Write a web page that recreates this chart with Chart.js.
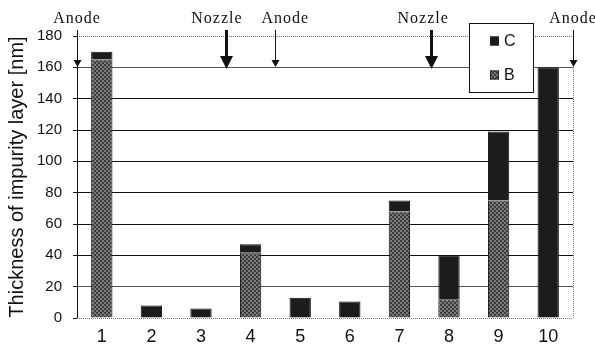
<!DOCTYPE html>
<html lang="en">
<head>
    <meta charset="UTF-8">
    <title>Thickness of impurity layer</title>
    <script src="https://cdn.jsdelivr.net/npm/chart.js"></script>
    <style>
        html, body { margin: 0; padding: 0; background: white; }
        #wrap { width: 595px; height: 345px; }
    </style>
</head>
<body>
    <div id="wrap"><canvas id="chart" width="595" height="345"></canvas></div>

    <script>
        // data
        const positions = ['1', '2', '3', '4', '5', '6', '7', '8', '9', '10'];
        const layerB = [165, 0, 0, 42, 0, 0, 68, 12, 75, 0];
        const layerC = [5, 8, 6, 5, 13, 10.5, 7, 28, 44, 160];
        const yTicks = [0, 20, 40, 60, 80, 100, 120, 140, 160, 180];

        // markers above the plot (x in category units)
        const markerNames = ['Anode', 'Nozzle', 'Anode', 'Nozzle', 'Anode'];
        const markerAt = [-0.5, 2.5, 3.5, 6.64, 9.5];
        const markerTextShift = [0, -0.18, 0.2, -0.16, 0];
        const markerHeavy = [false, true, false, true, false];

        // dithered grey fill used for layer B
        function makeDither() {
            let c = document.createElement('canvas');
            c.width = 4; c.height = 4;
            let g = c.getContext('2d');
            g.fillStyle = '#7a7a7a';
            g.fillRect(0, 0, 4, 4);
            g.fillStyle = '#3c3c3c';
            g.fillRect(0, 0, 2, 2);
            g.fillRect(2, 2, 2, 2);
            return g.createPattern(c, 'repeat');
        }
        const dither = makeDither();
        const darkFill = '#1c1c1c';

        const overlay = {
            id: 'overlay',
            beforeDatasetsDraw(chart) {
                const { ctx, chartArea: a } = chart;
                const y = chart.scales.y;
                ctx.save();
                ctx.strokeStyle = '#666';
                ctx.lineWidth = 1;
                ctx.setLineDash([1, 1]);
                let yt = Math.round(y.getPixelForValue(180)) + 0.5;
                ctx.beginPath();
                ctx.moveTo(a.left, yt);
                ctx.lineTo(a.right, yt);
                ctx.stroke();
                ctx.restore();
            },
            afterDatasetsDraw(chart) {
                const { ctx, chartArea: a } = chart;
                const x = chart.scales.x;
                ctx.save();
                ctx.strokeStyle = '#777';
                ctx.lineWidth = 1;
                ctx.setLineDash([1, 1]);
                // bottom axis
                let yb = Math.round(a.bottom) + 0.5;
                ctx.beginPath();
                ctx.moveTo(a.left, yb);
                ctx.lineTo(a.right, yb);
                ctx.stroke();
                // right anode line
                let xr = Math.round(x.getPixelForValue(markerAt[4])) + 0.5;
                ctx.beginPath();
                ctx.moveTo(xr, 67);
                ctx.lineTo(xr, a.bottom);
                ctx.stroke();
                ctx.restore();
            },
            afterDraw(chart) {
                const { ctx } = chart;
                const x = chart.scales.x;
                const tip = Math.round(chart.scales.y.getPixelForValue(160));
                ctx.save();

                // arrows and their labels
                markerNames.forEach((name, i) => {
                    let px = Math.round(x.getPixelForValue(markerAt[i])) + 0.5;
                    ctx.strokeStyle = '#111';
                    ctx.fillStyle = '#111';
                    ctx.setLineDash([]);
                    if (markerHeavy[i]) {
                        ctx.lineWidth = 3;
                        ctx.beginPath();
                        ctx.moveTo(px, 30);
                        ctx.lineTo(px, tip - 10);
                        ctx.stroke();
                        ctx.beginPath();
                        ctx.moveTo(px - 6.5, tip - 11);
                        ctx.lineTo(px + 6.5, tip - 11);
                        ctx.lineTo(px, tip + 2);
                        ctx.closePath();
                        ctx.fill();
                    } else {
                        ctx.lineWidth = 1;
                        ctx.beginPath();
                        ctx.moveTo(px, 30);
                        ctx.lineTo(px, tip - 6);
                        ctx.stroke();
                        ctx.beginPath();
                        ctx.moveTo(px - 4, tip - 7);
                        ctx.lineTo(px + 4, tip - 7);
                        ctx.lineTo(px, tip);
                        ctx.closePath();
                        ctx.fill();
                    }
                    ctx.font = '16px "Liberation Serif", "DejaVu Serif", serif';
                    ctx.letterSpacing = '1px';
                    ctx.textAlign = 'center';
                    ctx.textBaseline = 'middle';
                    ctx.fillStyle = '#111';
                    let tx = x.getPixelForValue(markerAt[i] + markerTextShift[i]);
                    ctx.fillText(name, tx, 19);
                });

                // legend box, C on top
                ctx.letterSpacing = '0px';
                ctx.setLineDash([]);
                ctx.fillStyle = '#fff';
                ctx.fillRect(469, 23, 64, 69);
                ctx.strokeStyle = '#111';
                ctx.lineWidth = 1;
                ctx.strokeRect(469.5, 23.5, 64, 69);
                const items = chart.data.datasets.slice().reverse();
                items.forEach((ds, k) => {
                    let cy = 41 + k * 34;
                    ctx.fillStyle = ds.backgroundColor;
                    ctx.fillRect(490, cy - 4.5, 9, 9);
                    ctx.strokeStyle = '#222';
                    ctx.strokeRect(490.5, cy - 4, 8, 8);
                    ctx.fillStyle = '#111';
                    ctx.font = '16px "Liberation Sans", Arial, sans-serif';
                    ctx.textAlign = 'left';
                    ctx.textBaseline = 'middle';
                    ctx.fillText(ds.label, 504, cy + 1);
                });
                ctx.restore();
            }
        };

        const ctx = document.getElementById('chart').getContext('2d');
        const chart = new Chart(ctx, {
            type: 'bar',
            data: {
                labels: positions,
                datasets: [
                    {
                        label: 'B',
                        data: layerB,
                        backgroundColor: dither,
                        borderColor: '#111',
                        borderWidth: 1,
                        borderSkipped: 'bottom',
                        categoryPercentage: 1,
                        barPercentage: 0.43
                    },
                    {
                        label: 'C',
                        data: layerC,
                        backgroundColor: darkFill,
                        borderColor: '#111',
                        borderWidth: 1,
                        borderSkipped: 'bottom',
                        categoryPercentage: 1,
                        barPercentage: 0.43
                    }
                ]
            },
            options: {
                responsive: false,
                animation: false,
                layout: { padding: { top: 36, right: 22, left: 0, bottom: 0 } },
                plugins: {
                    legend: { display: false },
                    tooltip: { enabled: false }
                },
                scales: {
                    x: {
                        stacked: true,
                        grid: { display: false, drawTicks: false },
                        border: { display: false },
                        ticks: {
                            color: '#111',
                            padding: 8,
                            font: { family: '"Liberation Sans", Arial, sans-serif', size: 18 }
                        },
                        afterFit: (s) => { s.height = 27; }
                    },
                    y: {
                        stacked: true,
                        min: 0,
                        max: 180,
                        afterBuildTicks: (s) => { s.ticks = yTicks.map(v => ({ value: v })); },
                        grid: {
                            color: (c) => {
                                let v = c.tick ? c.tick.value : null;
                                if (v === 0 || v === 180) return 'rgba(0,0,0,0)';
                                if (v === 20 || v === 160) return '#555';
                                return '#111';
                            },
                            tickColor: '#111',
                            tickLength: 4,
                            lineWidth: 1
                        },
                        border: { display: true, color: '#111', width: 1 },
                        ticks: {
                            color: '#111',
                            padding: 11,
                            font: { family: '"Liberation Sans", Arial, sans-serif', size: 15 }
                        },
                        title: {
                            display: true,
                            text: 'Thickness of impurity layer [nm]',
                            color: '#111',
                            padding: { top: 5, bottom: 0 },
                            font: { family: '"Liberation Sans", Arial, sans-serif', size: 20 }
                        },
                        afterFit: (s) => { s.width = 77; }
                    }
                }
            },
            plugins: [overlay]
        });
    </script>
</body>
</html>
